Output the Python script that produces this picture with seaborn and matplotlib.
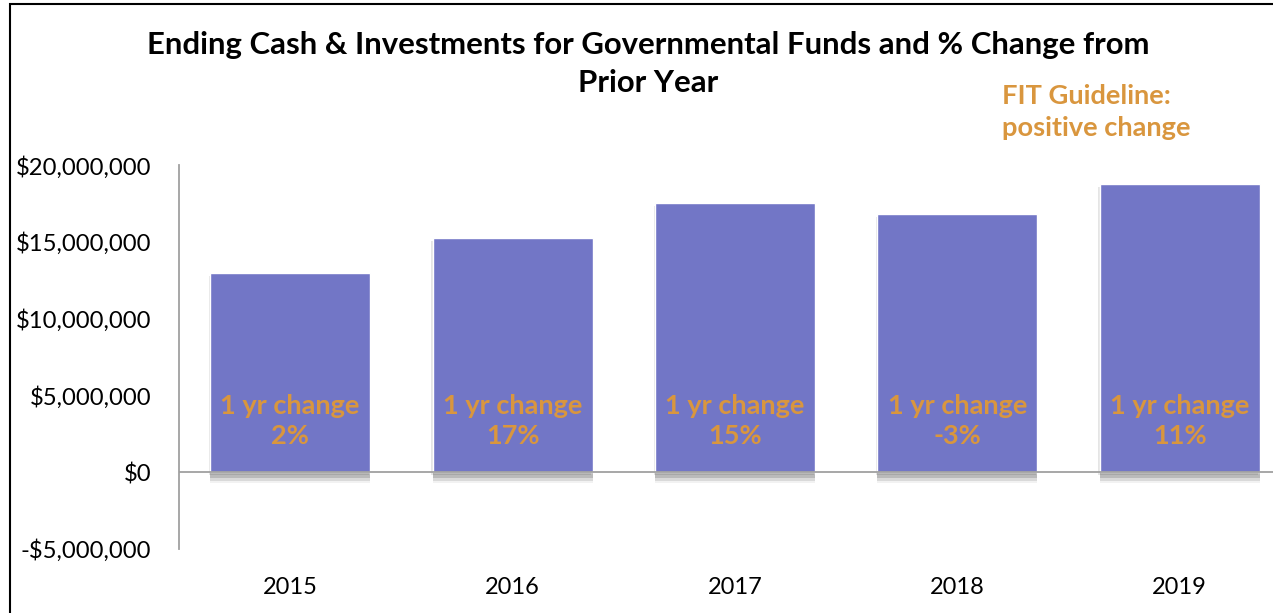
import matplotlib
matplotlib.use("Agg")
import matplotlib.pyplot as plt
import matplotlib.patheffects as pe
from matplotlib.ticker import FuncFormatter, MultipleLocator
from matplotlib.patches import Rectangle
import seaborn as sns
import pandas as pd

# Fiscal years and ending cash & investments (dollars)
years = ["2015", "2016", "2017", "2018", "2019"]
ending_cash = [12_950_000, 15_230_000, 17_510_000, 16_810_000, 18_760_000]
pct_change_labels = ["2%", "17%", "15%", "-3%", "11%"]

title_lines = ["Ending Cash & Investments for Governmental Funds and % Change from",
               "Prior Year"]
guideline_text = "FIT Guideline:\npositive change"

BAR_COLOR = "#7276C6"
ACCENT = "#D9963E"
AXIS_GRAY = "#A0A0A0"

sns.set_theme(style="white")
plt.rcParams["font.family"] = ["Lato", "DejaVu Sans"]

df = pd.DataFrame({"year": years, "cash": ending_cash})

fig = plt.figure(figsize=(12.73, 6.13), dpi=100)
ax = fig.add_axes([0.1406, 0.1044, 0.8735, 0.6264])

sns.barplot(data=df, x="year", y="cash", color=BAR_COLOR, saturation=1,
            width=0.72, ax=ax, zorder=3)

# soft drop shadow beneath each bar
for bar in ax.patches:
    bar.set_path_effects([
        pe.SimplePatchShadow(offset=(0, -8), shadow_rgbFace="#000000", alpha=0.05),
        pe.SimplePatchShadow(offset=(0, -6), shadow_rgbFace="#000000", alpha=0.10),
        pe.SimplePatchShadow(offset=(0, -4), shadow_rgbFace="#000000", alpha=0.14),
        pe.SimplePatchShadow(offset=(-1, -2), shadow_rgbFace="#000000", alpha=0.10),
        pe.Normal(),
    ])

ax.set_xlim(-0.5, 4.5)
ax.set_ylim(-5_000_000, 20_000_000)
ax.yaxis.set_major_locator(MultipleLocator(5_000_000))


def dollars(v, _pos):
    if v < 0:
        return f"-${abs(v):,.0f}"
    return f"${v:,.0f}"


ax.yaxis.set_major_formatter(FuncFormatter(dollars))
ax.set_xlabel("")
ax.set_ylabel("")

for side in ("top", "right", "bottom"):
    ax.spines[side].set_visible(False)
ax.spines["left"].set_color(AXIS_GRAY)
ax.spines["left"].set_linewidth(1.3)
ax.axhline(0, color=AXIS_GRAY, linewidth=1.3, zorder=4)

ax.tick_params(axis="y", length=0, pad=20, labelsize=17.2, labelcolor="black")
ax.tick_params(axis="x", length=0, pad=20, labelsize=17, labelcolor="black")

# percent-change annotations inside the bars
for i, lab in enumerate(pct_change_labels):
    ax.text(i, 3_330_000, f"1 yr change\n{lab}", ha="center", va="center",
            color=ACCENT, fontsize=19.5, fontweight="bold", linespacing=1.32,
            zorder=5)

fig.text(0.509, 1 - 45 / 613, title_lines[0], ha="center", va="center",
         fontsize=22.4, fontweight="bold", color="black")
fig.text(0.509, 1 - 83 / 613, title_lines[1], ha="center", va="center",
         fontsize=22.4, fontweight="bold", color="black")
fig.text(0.787, 1 - 112 / 613, guideline_text, ha="left", va="center",
         fontsize=19.6, fontweight="bold", color=ACCENT, linespacing=1.45)

# chart border
fig.add_artist(Rectangle((10 / 1273, -0.05), 1.1, 1.05 - 4 / 613,
                         transform=fig.transFigure, fill=False,
                         edgecolor="black", linewidth=1.5))

fig.savefig("out.png", dpi=100)
